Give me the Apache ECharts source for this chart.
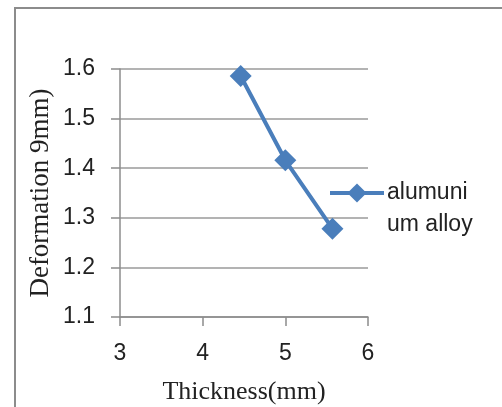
<!DOCTYPE html>
<html>
<head>
<meta charset="utf-8">
<script src="https://cdn.jsdelivr.net/npm/echarts@6/dist/echarts.min.js"></script>
<style>
html,body{margin:0;padding:0;background:#fff;}
#chart{width:502px;height:407px;}
</style>
</head>
<body>
<div id="chart"></div>
<script>
var seriesName = 'alumuni\num alloy';
var thickness = [4.46, 5.0, 5.57];
var deformation = [1.586, 1.416, 1.278];
var xTicks = [3, 4, 5, 6];
var yTicks = [1.1, 1.2, 1.3, 1.4, 1.5, 1.6];

var chart = echarts.init(document.getElementById('chart'), null, {renderer: 'canvas'});
var points = thickness.map(function (x, i) { return [x, deformation[i]]; });
chart.setOption({
  animation: false,
  backgroundColor: '#ffffff',
  graphic: [{
    type: 'rect',
    shape: {x: 15, y: 8, width: 600, height: 600},
    style: {fill: 'none', stroke: '#8c8c8c', lineWidth: 2},
    silent: true,
    z: -1
  }],
  grid: {left: 120, right: 134, top: 69, bottom: 90, containLabel: false, outerBoundsMode: 'none'},
  legend: {
    show: true,
    orient: 'vertical',
    left: 328,
    top: 145,
    padding: 0,
    itemWidth: 54,
    itemHeight: 24,
    itemGap: 0,
    lineStyle: {width: 4, color: '#4a7ebb'},
    itemStyle: {color: '#4a7ebb'},
    formatter: function (name) { return '\n' + name; },
    textStyle: {fontFamily: 'Liberation Sans', fontSize: 23, color: '#222', lineHeight: 32, padding: [0, 0, 0, -2]},
    data: [{name: seriesName}]
  },
  xAxis: {
    type: 'value',
    min: xTicks[0],
    max: xTicks[xTicks.length - 1],
    interval: 1,
    name: 'Thickness(mm)',
    nameLocation: 'middle',
    nameGap: 62,
    nameTextStyle: {fontFamily: 'Liberation Serif', fontSize: 26, color: '#222'},
    axisLine: {show: true, onZero: false, lineStyle: {color: '#8c8c8c', width: 1.5}},
    axisTick: {show: true, length: 9, lineStyle: {color: '#8c8c8c', width: 1.5}},
    axisLabel: {margin: 25, fontFamily: 'Liberation Sans', fontSize: 23, color: '#222'},
    splitLine: {show: false}
  },
  yAxis: {
    type: 'value',
    min: yTicks[0],
    max: yTicks[yTicks.length - 1],
    interval: 0.1,
    name: 'Deformation 9mm)',
    nameLocation: 'middle',
    nameGap: 66,
    nameTextStyle: {fontFamily: 'Liberation Serif', fontSize: 27, color: '#222'},
    axisLine: {show: true, lineStyle: {color: '#8c8c8c', width: 1.5}},
    axisTick: {show: true, length: 9, lineStyle: {color: '#8c8c8c', width: 1.5}},
    axisLabel: {margin: 25, fontFamily: 'Liberation Sans', fontSize: 23, color: '#222',
      formatter: function (v) { return v.toFixed(1); }},
    splitLine: {show: true, lineStyle: {color: '#9a9a9a', width: 1.5}}
  },
  series: [{
    name: seriesName,
    type: 'line',
    data: points,
    symbol: 'diamond',
    symbolSize: 22,
    itemStyle: {color: '#4a7ebb'},
    lineStyle: {color: '#4a7ebb', width: 4}
  }]
});
</script>
</body>
</html>
